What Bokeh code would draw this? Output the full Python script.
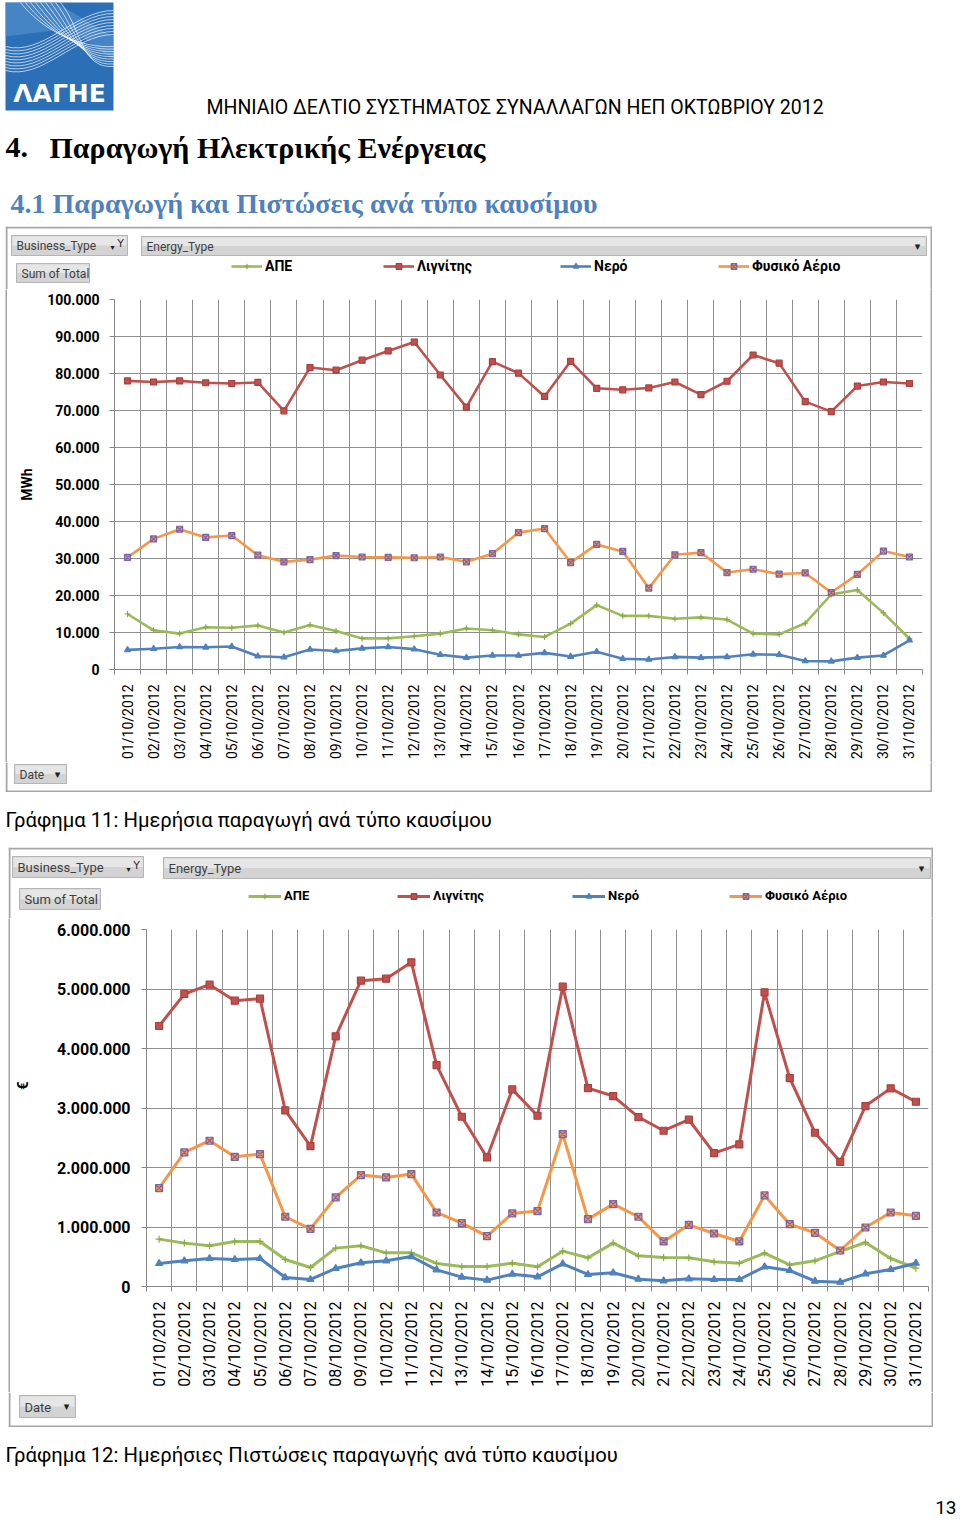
import math
from bokeh.plotting import figure
from bokeh.models import Range1d, FixedTicker, Legend, LegendItem, Spacer
from bokeh.layouts import column, row
from bokeh.embed import file_html
from bokeh.resources import INLINE
from bokeh.core.properties import value

# ---------------- data ----------------
dates = ["01/10/2012", "02/10/2012", "03/10/2012", "04/10/2012", "05/10/2012",
         "06/10/2012", "07/10/2012", "08/10/2012", "09/10/2012", "10/10/2012",
         "11/10/2012", "12/10/2012", "13/10/2012", "14/10/2012", "15/10/2012",
         "16/10/2012", "17/10/2012", "18/10/2012", "19/10/2012", "20/10/2012",
         "21/10/2012", "22/10/2012", "23/10/2012", "24/10/2012", "25/10/2012",
         "26/10/2012", "27/10/2012", "28/10/2012", "29/10/2012", "30/10/2012",
         "31/10/2012"]

series_names = ["ΑΠΕ", "Λιγνίτης", "Νερό", "Φυσικό Αέριο"]

# Chart 11: daily production (MWh)
mwh_ape = [15000, 10600, 9700, 11400, 11300, 11900, 10000, 12000, 10400, 8400,
           8400, 9000, 9700, 11100, 10600, 9500, 8800, 12400, 17400, 14500,
           14500, 13700, 14100, 13500, 9700, 9500, 12500, 20300, 21500, 15300, 8300]
mwh_lignite = [78000, 77700, 78000, 77500, 77300, 77600, 69900, 81600, 80900, 83600,
               86100, 88500, 79600, 70900, 83200, 80100, 73800, 83300, 76000, 75600,
               76100, 77700, 74300, 77900, 85000, 82800, 72400, 69700, 76600, 77700, 77300]
mwh_hydro = [5300, 5600, 6100, 6000, 6200, 3600, 3300, 5400, 5000, 5700,
             6100, 5500, 4000, 3200, 3800, 3800, 4500, 3500, 4800, 2900,
             2700, 3400, 3200, 3400, 4100, 4000, 2300, 2200, 3200, 3800, 7900]
mwh_gas = [30300, 35300, 37900, 35700, 36200, 30900, 29100, 29700, 30800, 30400,
           30300, 30200, 30400, 29100, 31300, 37000, 38100, 28900, 33800, 31900,
           22000, 31000, 31600, 26200, 27100, 25800, 26100, 20800, 25700, 32000, 30400]

mwh_ticks = [0, 10000, 20000, 30000, 40000, 50000, 60000, 70000, 80000, 90000, 100000]
mwh_tick_labels = ["0", "10.000", "20.000", "30.000", "40.000", "50.000",
                   "60.000", "70.000", "80.000", "90.000", "100.000"]

# Chart 12: daily credits (EUR)
eur_ape = [796000, 729000, 684000, 757000, 757000, 454000, 320000, 645000, 684000, 566000,
           566000, 387000, 336000, 336000, 392000, 331000, 594000, 482000, 729000, 516000,
           488000, 482000, 415000, 392000, 561000, 364000, 432000, 589000, 740000, 471000, 308000]
eur_lignite = [4378000, 4916000, 5073000, 4804000, 4837000, 2960000, 2360000, 4204000, 5140000, 5174000,
               5448000, 3722000, 2853000, 2169000, 3313000, 2870000, 5039000, 3335000, 3201000, 2848000,
               2618000, 2803000, 2242000, 2388000, 4944000, 3503000, 2584000, 2096000, 3033000, 3330000, 3105000]
eur_hydro = [387000, 432000, 471000, 454000, 471000, 151000, 118000, 303000, 398000, 432000,
             504000, 280000, 157000, 107000, 207000, 163000, 381000, 202000, 230000, 123000,
             95000, 129000, 118000, 118000, 331000, 269000, 90000, 73000, 213000, 286000, 392000]
eur_gas = [1654000, 2253000, 2450000, 2180000, 2225000, 1172000, 970000, 1497000, 1872000, 1833000,
           1889000, 1244000, 1065000, 846000, 1228000, 1267000, 2562000, 1132000, 1385000, 1172000,
           757000, 1037000, 891000, 757000, 1530000, 1048000, 902000, 605000, 992000, 1244000, 1188000]

eur_ticks = [0, 1000000, 2000000, 3000000, 4000000, 5000000, 6000000]
eur_tick_labels = ["0", "1.000.000", "2.000.000", "3.000.000", "4.000.000", "5.000.000", "6.000.000"]

# ---------------- styling ----------------
SANS = "Roboto"
SERIF = "Liberation Serif"
SYM = "DejaVu Sans"
PAGE_W = 958
colors = ["#9BBB59", "#C0504D", "#4F81BD", "#F79646"]
markers = ["cross", "square", "triangle", "square_x"]
marker_lines = ["#8AAA4A", "#A8403D", "#4F81BD", "#8064A2"]
GRID = "#8F8F8F"
AXIS = "#868686"
BOX = "#A6A6A6"
NAN = float("nan")


def blank(w, h, x0, y0):
    """A figure whose frame is the whole canvas, in page pixel coordinates."""
    f = figure(width=w, height=h, x_range=Range1d(x0, x0 + w), y_range=Range1d(y0 + h, y0),
               x_axis_type=None, y_axis_type=None, output_backend="svg",
               toolbar_location=None, min_border=0, title=None, frame_align=False)
    f.outline_line_color = None
    f.background_fill_color = "white"
    f.border_fill_color = "white"
    return f


def edge_bar(h):
    """A 2px wide grey bar: the left or right side of a chart's box."""
    f = blank(2, h, 0, 0)
    f.background_fill_color = BOX
    f.border_fill_color = BOX
    return f


def put_text(f, x, y, s, size, font=SANS, color="#000000", style="normal", align="left"):
    # y is the vertical middle of the text line
    f.text(x=[x], y=[y], text=[s], text_font=value(font), text_font_size=size,
           text_color=color, text_font_style=style, text_align=align,
           text_baseline="middle")


def button(f, box, s, size, arrow=False, funnel=False):
    x0, y0, x1, y1 = box
    ym = (y0 + y1) / 2
    f.quad(left=[x0], right=[x1], top=[y0], bottom=[y1], fill_color="#D3D3D3",
           line_color="#B5B5B5", line_width=1)
    f.quad(left=[x0 + 1], right=[x1 - 1], top=[y0 + 1], bottom=[ym], fill_color="#E6E6E6",
           line_color=None)
    put_text(f, x0 + 5, ym + 0.5, s, size, color="#3F3F3F")
    if arrow:
        put_text(f, x1 - 9, ym, "▾", "11px", font=SYM, color="#202020", align="center")
    if funnel:
        put_text(f, x1 - 15, ym + 2, "▾", "8px", font=SYM, color="#202020", align="center")
        put_text(f, x1 - 7, ym - 2, "Y", "11px", font=SYM, color="#303030", align="center")


def box_edges(f, x0, y0, w, h, top=False, bottom=False):
    xs0, ys0, xs1, ys1 = [x0 + 1, x0 + w - 1], [y0, y0], [x0 + 1, x0 + w - 1], [y0 + h, y0 + h]
    if top:
        xs0.append(x0); ys0.append(y0 + 1); xs1.append(x0 + w); ys1.append(y0 + 1)
    if bottom:
        xs0.append(x0); ys0.append(y0 + h - 1); xs1.append(x0 + w); ys1.append(y0 + h - 1)
    f.segment(x0=xs0, y0=ys0, x1=xs1, y1=ys1, line_color=BOX, line_width=2)


def top_strip(w, h, x0, y0, cfg):
    f = blank(w, h, x0, y0)
    box_edges(f, x0, y0, w, h, top=True)
    button(f, cfg["btype"], "Business_Type", cfg["bsize"], funnel=True)
    button(f, cfg["etype"], "Energy_Type", cfg["bsize"], arrow=True)
    button(f, cfg["sum"], "Sum of Total", cfg["bsize"])
    for k, name in enumerate(series_names):
        # legend proxies (a single NaN point, nothing is drawn in the strip)
        lr = f.line(x=[NAN], y=[NAN], line_color=colors[k], line_width=cfg["lw"])
        sr = f.scatter(x=[NAN], y=[NAN], marker=markers[k], size=cfg["ms"], fill_color=colors[k],
                       line_color=marker_lines[k], line_width=1.2)
        leg = Legend(items=[LegendItem(label=name, renderers=[lr, sr])],
                     location=(cfg["legx"][k] - x0, (y0 + h) - (cfg["legy"] + 7)),
                     orientation="horizontal", background_fill_alpha=0,
                     border_line_color=None, padding=0, margin=0, spacing=0,
                     glyph_width=cfg["legw"], glyph_height=14, label_height=14,
                     label_standoff=3, label_text_font=SANS,
                     label_text_font_size=cfg["legsize"], label_text_font_style="bold",
                     label_text_color="#000000")
        f.add_layout(leg)
    return f


def bottom_strip(w, h, x0, y0, cfg):
    f = blank(w, h, x0, y0)
    box_edges(f, x0, y0, w, h, bottom=True)
    button(f, cfg["date"], "Date", cfg["bsize"], arrow=True)
    return f


def plot(w, h, ml, mr, mt, mb, values, ymax, ticks, tick_labels, ylabel, cfg):
    p = figure(width=w, height=h, x_range=Range1d(0, 2 * len(dates)), y_range=Range1d(0, ymax),
               output_backend="svg", toolbar_location=None, title=None, frame_align=False,
               min_border_left=ml, min_border_right=mr, min_border_top=mt, min_border_bottom=mb)
    p.outline_line_color = None
    p.background_fill_color = "white"
    p.border_fill_color = "white"

    xs = [2 * i + 1 for i in range(len(dates))]
    bounds = [2 * i for i in range(len(dates) + 1)]

    xa = p.xaxis[0]
    xa.ticker = FixedTicker(ticks=xs, minor_ticks=bounds)
    xa.major_label_overrides = {x: d for x, d in zip(xs, dates)}
    xa.major_label_orientation = math.pi / 2
    xa.major_tick_line_color = None
    xa.major_tick_out = 0
    xa.major_tick_in = 0
    xa.minor_tick_out = 5
    xa.minor_tick_in = 0
    xa.minor_tick_line_color = AXIS
    xa.axis_line_color = AXIS
    xa.major_label_standoff = cfg["xstand"]
    xa.major_label_text_font = SANS
    xa.major_label_text_font_size = cfg["xsize"]
    xa.major_label_text_color = "#000000"

    ya = p.yaxis[0]
    ya.ticker = FixedTicker(ticks=ticks)
    ya.major_label_overrides = {t: s for t, s in zip(ticks, tick_labels)}
    ya.minor_tick_line_color = None
    ya.major_tick_out = 5
    ya.major_tick_in = 0
    ya.major_tick_line_color = AXIS
    ya.axis_line_color = AXIS
    ya.major_label_standoff = cfg["ystand"]
    ya.major_label_text_font = SANS
    ya.major_label_text_font_size = cfg["ysize"]
    ya.major_label_text_font_style = "bold"
    ya.major_label_text_color = "#000000"
    ya.axis_label = ylabel
    ya.axis_label_text_font = SANS
    ya.axis_label_text_font_size = cfg["alsize"]
    ya.axis_label_text_font_style = "bold"
    ya.axis_label_text_color = "#000000"
    ya.axis_label_standoff = cfg["alstand"]

    p.xgrid.ticker = FixedTicker(ticks=bounds)
    p.xgrid.grid_line_color = GRID
    p.ygrid.grid_line_color = GRID

    for k, vals in enumerate(values):
        p.line(xs, vals, line_color=colors[k], line_width=cfg["lw"])
        p.scatter(xs, vals, marker=markers[k], size=cfg["ms"], fill_color=colors[k],
                  line_color=marker_lines[k], line_width=1.2)
    return row(edge_bar(h), p, edge_bar(h), spacing=0)


# ---------------- header (page y 0..226) ----------------
head = blank(PAGE_W, 226, 0, 0)
head.quad(left=[5], right=[113], top=[2], bottom=[110], fill_color="#2B6FB6", line_color=None)
head.patch([5, 55, 113, 113, 70, 5], [2, 2, 36, 60, 28, 36], fill_color="#5B97D2",
           fill_alpha=0.55, line_color=None)
for k in range(9):
    head.bezier(x0=[5], y0=[46 + 3 * k], x1=[113], y1=[10 + 3 * k],
                cx0=[42], cy0=[56 + 3 * k], cx1=[74], cy1=[10 + 3 * k],
                line_color="white", line_width=0.8, line_alpha=0.85)
    head.bezier(x0=[20 + 5 * k], y0=[2], x1=[113], y1=[46 + 2.5 * k],
                cx0=[42 + 5 * k], cy0=[30], cx1=[80], cy1=[48 + 2.5 * k],
                line_color="white", line_width=0.8, line_alpha=0.85)
put_text(head, 59, 93, "ΛΑΓΗΕ", "25px", font="DejaVu Sans", color="white",
         style="bold", align="center")
put_text(head, 206, 107, "ΜΗΝΙΑΙΟ ΔΕΛΤΙΟ ΣΥΣΤΗΜΑΤΟΣ ΣΥΝΑΛΛΑΓΩΝ ΗΕΠ ΟΚΤΩΒΡΙΟΥ 2012", "19.5px")
put_text(head, 5, 147, "4.", "30px", font=SERIF, style="bold")
put_text(head, 49, 147, "Παραγωγή Ηλεκτρικής Ενέργειας", "30px", font=SERIF, style="bold")
put_text(head, 10, 203, "4.1 Παραγωγή και Πιστώσεις ανά τύπο καυσίμου", "28px",
         font=SERIF, color="#4F81BD", style="bold")

# ---------------- chart 11 (box x 5..932, y 226..792) ----------------
cfg1 = dict(xstand=10, xsize="14px", ystand=10, ysize="14px", alsize="14px", alstand=9,
            btype=(11, 235, 127, 255), etype=(141, 236, 926, 255),
            sum=(16, 263, 89, 282), date=(14, 764, 66, 783), bsize="12px",
            lw=2.6, ms=6, legx=[231, 383, 560, 718], legy=267, legw=31, legsize="14px")
t1 = top_strip(927, 63, 5, 226, cfg1)
p1 = plot(923, 473, 107, 8, 10, 93, [mwh_ape, mwh_lignite, mwh_hydro, mwh_gas],
          100000, mwh_ticks, mwh_tick_labels, "MWh", cfg1)
b1 = bottom_strip(927, 30, 5, 762, cfg1)
block1 = column(t1, p1, b1, spacing=0)

cap1 = blank(PAGE_W, 55, 0, 792)
put_text(cap1, 5, 819, "Γράφημα 11: Ημερήσια παραγωγή ανά τύπο καυσίμου", "20.3px")

# ---------------- chart 12 (box x 8..933, y 847..1427) ----------------
cfg2 = dict(xstand=10, xsize="16px", ystand=11, ysize="16px", alsize="15px", alstand=22,
            btype=(12, 856, 143, 877), etype=(163, 857, 930, 878),
            sum=(19, 888, 100, 909), date=(19, 1395, 75, 1417), bsize="13px",
            lw=3, ms=7, legx=[248, 397, 572, 729], legy=896, legw=33, legsize="13px")
t2 = top_strip(925, 71, 8, 847, cfg2)
# the Excel chart sets its axis title a little above the middle of the axis
p2 = plot(921, 474, 132, 3, 11, 106, [eur_ape, eur_lignite, eur_hydro, eur_gas],
          6000000, eur_ticks, eur_tick_labels, "\u00a0" * 12 + "€", cfg2)
b2 = bottom_strip(925, 35, 8, 1392, cfg2)
block2 = column(t2, p2, b2, spacing=0)

foot = blank(PAGE_W, 92, 0, 1427)
put_text(foot, 5, 1454, "Γράφημα 12: Ημερήσιες Πιστώσεις παραγωγής ανά τύπο καυσίμου", "20.3px")
put_text(foot, 956, 1507, "13", "19px", align="right")

page = column(head,
              row(Spacer(width=5, height=566), block1, spacing=0),
              cap1,
              row(Spacer(width=8, height=580), block2, spacing=0),
              foot, spacing=0)
open("out.html", "w").write(file_html(page, INLINE))
